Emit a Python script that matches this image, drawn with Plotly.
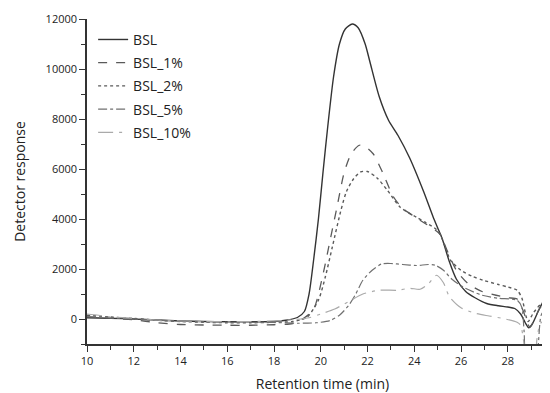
import plotly.graph_objects as go

# ---- data ----
bsl_x = [10, 11, 12, 13, 14, 15, 16, 17, 18, 18.5, 19.0, 19.3, 19.5, 19.7, 19.9, 20.1, 20.3, 20.55,
         20.8, 21.05, 21.35, 21.6, 21.9, 22.1, 22.5, 22.9, 23.3, 23.8, 24.4, 24.8, 25.0, 25.2, 25.5,
         25.8, 26.2, 26.6, 27.1, 27.6, 28.0, 28.3, 28.55, 28.75, 28.9, 29.05, 29.3, 29.5, 29.65, 29.8, 30.1]
bsl_y = [50, 30, 0, -40, -80, -100, -110, -110, -100, -50, 60, 300, 1000, 2400, 4000, 5900, 7700, 9700,
         11000, 11600, 11800, 11650, 11000, 10300, 8900, 7950, 7350, 6450, 5100, 4100, 3650, 3200, 2300,
         1600, 1100, 850, 620, 530, 480, 420, 200, -150, -350, -200, 300, 650, 700, 500, 300]

bsl1_x = [10, 11, 12, 13, 14, 15, 16, 17, 18, 18.8, 19.3, 19.7, 20.1, 20.4, 20.7, 21.0, 21.3, 21.65,
          21.9, 22.25, 22.65, 23.1, 23.5, 24.0, 24.5, 24.9, 25.1, 25.4, 25.8, 26.3, 26.9, 27.5, 28.0,
          28.4, 28.65, 28.95, 29.2, 29.4, 29.8, 30.1]
bsl1_y = [80, 30, -30, -150, -220, -240, -250, -250, -230, -180, 50, 400, 1800, 3150, 4500, 5850, 6600, 6950,
          6900, 6600, 5850, 4900, 4430, 4100, 3800, 3550, 3400, 2750, 1950, 1420, 1100, 950, 850,
          800, 350, -330, 100, 470, 550, 450]

bsl2_x = [10, 11, 12, 13, 14, 15, 16, 17, 18, 18.8, 19.4, 19.9, 20.2, 20.5, 20.85, 21.1, 21.4, 21.7,
          22.0, 22.4, 22.85, 23.4, 24.1, 24.5, 24.95, 25.15, 25.3, 25.55, 26.0, 26.5, 26.95, 27.6,
          28.0, 28.4, 28.6, 28.87, 29.1, 29.5, 29.8, 30.1]
bsl2_y = [150, 80, 20, -50, -100, -130, -150, -150, -130, -100, 60, 750, 1700, 2900, 4300, 5100, 5600, 5880,
          5900, 5650, 5150, 4470, 4070, 3850, 3580, 3300, 2950, 2350, 1950, 1700, 1550, 1380,
          1280, 1150, 850, -100, 250, 670, 750, 700]

bsl5_x = [10, 11, 12, 13, 14, 15, 16, 17, 18, 19, 19.8, 20.4, 20.8, 21.2, 21.5, 21.8, 22.2, 22.6, 23.0,
          23.5, 24.1, 24.6, 24.9, 25.25, 25.6, 26.1, 26.9, 27.6, 28.4, 28.6, 28.7, 28.8, 29.2, 29.45, 29.8, 30.1]
bsl5_y = [100, 50, 0, -50, -80, -110, -130, -130, -140, -170, -150, -60, 150, 550, 1000, 1550, 1950, 2200, 2220,
          2180, 2140, 2180, 2150, 1950, 1600, 1270, 950, 830, 750, 470, -500, -1500, -1500, 200, 450, 400]

bsl10_x = [10, 10.5, 11, 12, 13, 14, 15, 16, 17, 18, 18.8, 19.5, 20.0, 20.6, 21.2, 21.8, 22.5, 23.3, 23.8,
           24.25, 24.6, 24.95, 25.25, 25.5, 26.0, 26.6, 27.2, 27.8, 28.4, 28.55, 28.7, 28.8, 29.15,
           29.25, 29.4, 29.8, 30.1]
bsl10_y = [200, 150, 80, 30, -40, -80, -100, -110, -100, -80, -30, 50, 200, 400, 700, 1000, 1150, 1150, 1230,
           1190, 1400, 1750, 1450, 900, 450, 230, 120, 20, -130, -250, -1000, -1500, -1500,
           -800, -180, 30, 50]

names = ["BSL", "BSL_1%", "BSL_2%", "BSL_5%", "BSL_10%"]
xs = [bsl_x, bsl1_x, bsl2_x, bsl5_x, bsl10_x]
ys = [bsl_y, bsl1_y, bsl2_y, bsl5_y, bsl10_y]
colors = ["#333333", "#5a5a5a", "#5a5a5a", "#707070", "#aaaaaa"]
dashes = ["solid", "dash", "dot", "dashdot", "longdashdot"]
widths = [1.4, 1.3, 1.4, 1.2, 1.2]

fig = go.Figure()
for i, (n, x, y) in enumerate(zip(names, xs, ys)):
    fig.add_trace(go.Scatter(
        x=x, y=y, name=n, mode="lines", legendgroup=n,
        line=dict(color=colors[i], dash=dashes[i], width=widths[i], shape="spline", smoothing=0.7),
    ))

axis_font = dict(family="Open Sans, sans-serif", size=11, color="#222")
fig.update_layout(
    autosize=False, width=550, height=393,
    margin=dict(l=79, r=0, t=11, b=57, autoexpand=False),
    paper_bgcolor="white", plot_bgcolor="white",
    font=dict(family="Open Sans, sans-serif", color="#222"),
    showlegend=True,
    legend=dict(x=0.013, y=0.985, xanchor="left", yanchor="top",
                font=dict(size=14, color="#222"), bgcolor="rgba(0,0,0,0)",
                tracegroupgap=2),
    xaxis=dict(range=[10, 30.15], dtick=2, tick0=10, showgrid=False, zeroline=False,
               automargin=False, tickformat="d", ticklabeloverflow="allow",
               showline=True, linecolor="#333", linewidth=1.5,
               ticks="outside", ticklen=6, tickwidth=1.3, tickcolor="#333",
               minor=dict(dtick=1, ticks="outside", ticklen=4, tickwidth=1, tickcolor="#333"),
               tickfont=axis_font,
               title=dict(text="Retention time (min)", font=dict(size=14, color="#222"), standoff=12)),
    yaxis=dict(range=[-1000, 12000], dtick=2000, tick0=0, showgrid=False, zeroline=False,
               automargin=False, tickformat="d",
               showline=True, linecolor="#333", linewidth=1.5,
               ticks="outside", ticklen=6, tickwidth=1.3, tickcolor="#333",
               minor=dict(dtick=1000, ticks="outside", ticklen=4, tickwidth=1, tickcolor="#333"),
               tickfont=axis_font,
               title=dict(text="Detector response", font=dict(size=14, color="#222"), standoff=17)),
)

fig.write_html("out.html")
